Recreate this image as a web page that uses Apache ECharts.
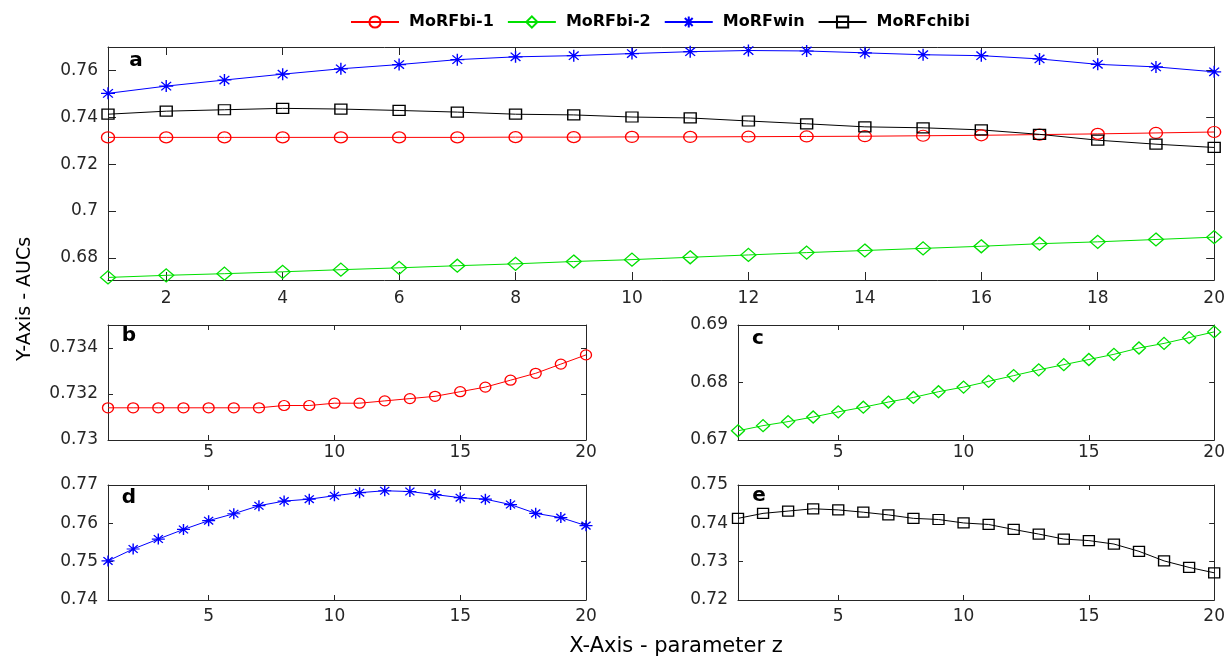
<!DOCTYPE html>
<html>
<head>
<meta charset="utf-8">
<title>MoRF AUCs vs parameter z</title>
<script src="https://cdn.jsdelivr.net/npm/echarts@6/dist/echarts.min.js"></script>
<style>
  html, body { margin: 0; padding: 0; background: #fff; }
  #chart { width: 1228px; height: 660px; }
</style>
</head>
<body>
<div id="chart"></div>
<script>
// parameter z
const xValues = [1, 2, 3, 4, 5, 6, 7, 8, 9, 10, 11, 12, 13, 14, 15, 16, 17, 18, 19, 20];

// AUCs
const morfBi1 = [0.7314, 0.7314, 0.7314, 0.7314, 0.7314, 0.7314, 0.7314, 0.7315, 0.7315, 0.7316,
  0.7316, 0.7317, 0.7318, 0.7319, 0.7321, 0.7323, 0.7326, 0.7329, 0.7333, 0.7337];
const morfBi2 = [0.6716, 0.6725, 0.6732, 0.6740, 0.6749, 0.6757, 0.6766, 0.6774, 0.6784, 0.6792,
  0.6802, 0.6812, 0.6822, 0.6831, 0.6840, 0.6849, 0.6860, 0.6868, 0.6878, 0.6888];
const morfWin = [0.7502, 0.7533, 0.7559, 0.7584, 0.7607, 0.7625, 0.7646, 0.7658, 0.7663, 0.7672,
  0.7680, 0.7685, 0.7683, 0.7675, 0.7667, 0.7663, 0.7649, 0.7626, 0.7615, 0.7594];
const morfChibi = [0.7413, 0.7426, 0.7432, 0.7438, 0.7435, 0.7429, 0.7422, 0.7413, 0.7410, 0.7401,
  0.7397, 0.7384, 0.7372, 0.7359, 0.7355, 0.7346, 0.7327, 0.7302, 0.7285, 0.7271];

// tick labels
const xTicksTop = [2, 4, 6, 8, 10, 12, 14, 16, 18, 20];
const xTicksSmall = [5, 10, 15, 20];
const yTicksA = [0.68, 0.70, 0.72, 0.74, 0.76];
const yTicksB = [0.730, 0.732, 0.734];
const yTicksC = [0.67, 0.68, 0.69];
const yTicksD = [0.74, 0.75, 0.76, 0.77];
const yTicksE = [0.72, 0.73, 0.74, 0.75];

const names = ['MoRFbi-1', 'MoRFbi-2', 'MoRFwin', 'MoRFchibi'];

const axisColor = '#262626';
const font = 'DejaVu Sans';
const asterisk = 'path://M0,-10L0,10M-10,0L10,0M-7,-7L7,7M-7,7L7,-7';

const chart = echarts.init(document.getElementById('chart'));

function pairs(ys) {
  return xValues.map((x, i) => [x, ys[i]]);
}

function fmt(v) {
  return String(Math.round(v * 1000) / 1000);
}

const grids = [];
const xAxes = [];
const yAxes = [];

function addPanel(box, xTicks, yTicks, yMin, yMax, tickLen, xMargin) {
  const gi = grids.length;
  grids.push(box);
  const line = { onZero: false, lineStyle: { color: axisColor, width: 1 } };
  const xTick = { inside: true, length: tickLen, customValues: xTicks, lineStyle: { color: axisColor } };
  const yTick = { inside: true, length: tickLen, customValues: yTicks, lineStyle: { color: axisColor } };
  const label = { color: axisColor, fontFamily: font, fontSize: 17 };
  xAxes.push({
    type: 'value', gridIndex: gi, position: 'bottom', min: 1, max: 20,
    axisLine: line, axisTick: xTick, splitLine: { show: false },
    axisLabel: Object.assign({ customValues: xTicks, margin: xMargin, formatter: fmt }, label),
  });
  xAxes.push({
    type: 'value', gridIndex: gi, position: 'top', min: 1, max: 20,
    axisLine: line, axisTick: xTick, splitLine: { show: false }, axisLabel: { show: false },
  });
  yAxes.push({
    type: 'value', gridIndex: gi, position: 'left', min: yMin, max: yMax,
    axisLine: line, axisTick: yTick, splitLine: { show: false },
    axisLabel: Object.assign({ customValues: yTicks, margin: 10, formatter: fmt }, label),
  });
  yAxes.push({
    type: 'value', gridIndex: gi, position: 'right', min: yMin, max: yMax,
    axisLine: line, axisTick: yTick, splitLine: { show: false }, axisLabel: { show: false },
  });
  return gi * 2;
}

function lineSeries(name, color, symbol, size, ys, axisIdx) {
  return {
    name: name,
    type: 'line',
    xAxisIndex: axisIdx,
    yAxisIndex: axisIdx,
    data: pairs(ys),
    symbol: symbol,
    symbolSize: size,
    showAllSymbol: true,
    clip: false,
    lineStyle: { color: color, width: 1 },
    itemStyle: { color: 'rgba(0,0,0,0)', borderColor: color, borderWidth: 1.3 },
    emphasis: { disabled: true },
  };
}

const a = addPanel({ left: 108, top: 47, width: 1107, height: 233 }, xTicksTop, yTicksA, 0.6705, 0.770, 8, 10);
const b = addPanel({ left: 108, top: 325, width: 478, height: 115 }, xTicksSmall, yTicksB, 0.730, 0.735, 5, 4);
const c = addPanel({ left: 738, top: 325, width: 477, height: 115 }, xTicksSmall, yTicksC, 0.67, 0.69, 5, 4);
const d = addPanel({ left: 108, top: 485, width: 478, height: 115 }, xTicksSmall, yTicksD, 0.74, 0.77, 5, 8);
const e = addPanel({ left: 738, top: 485, width: 477, height: 115 }, xTicksSmall, yTicksE, 0.72, 0.75, 5, 8);

const series = [
  lineSeries(names[0], '#ff0000', 'circle', [13, 11], morfBi1, a),
  lineSeries(names[1], '#00e000', 'diamond', [15, 13], morfBi2, a),
  lineSeries(names[2], '#0000ff', asterisk, [14, 12], morfWin, a),
  lineSeries(names[3], '#000000', 'rect', [12, 10], morfChibi, a),
  lineSeries(names[0], '#ff0000', 'circle', [11, 10], morfBi1, b),
  lineSeries(names[1], '#00e000', 'diamond', [13, 12], morfBi2, c),
  lineSeries(names[2], '#0000ff', asterisk, [13, 11], morfWin, d),
  lineSeries(names[3], '#000000', 'rect', [11, 10], morfChibi, e),
];

function panelLetter(text, x, y) {
  return {
    type: 'text', x: x, y: y,
    style: { text: text, fill: '#000', font: 'bold 20px "DejaVu Sans"', textAlign: 'center', textVerticalAlign: 'middle' },
  };
}

const option = {
  animation: false,
  backgroundColor: '#fff',
  legend: {
    data: names,
    left: 345,
    top: 9,
    itemWidth: 48,
    itemHeight: 14,
    itemGap: 13,
    textStyle: { color: '#000', fontFamily: font, fontWeight: 'bold', fontSize: 16, padding: [0, 0, 0, 5] },
  },
  grid: grids,
  xAxis: xAxes,
  yAxis: yAxes,
  series: series,
  graphic: [
    panelLetter('a', 136, 61),
    panelLetter('b', 129, 336),
    panelLetter('c', 758, 339),
    panelLetter('d', 129, 498),
    panelLetter('e', 759, 496),
    {
      type: 'text', x: 25, y: 299, rotation: Math.PI / 2,
      style: { text: 'Y-Axis - AUCs', fill: '#000', font: '19px "DejaVu Sans"', textAlign: 'center', textVerticalAlign: 'middle' },
    },
    {
      type: 'text', x: 676, y: 647,
      style: { text: 'X-Axis - parameter z', fill: '#000', font: '21px "DejaVu Sans"', textAlign: 'center', textVerticalAlign: 'middle' },
    },
  ],
};

chart.setOption(option);
</script>
</body>
</html>
